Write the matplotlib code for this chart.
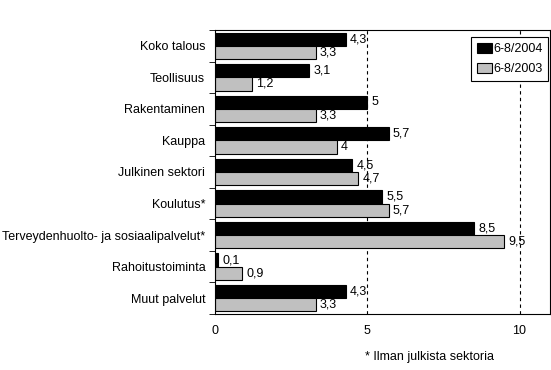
import numpy as np
import matplotlib.pyplot as plt

categories = ['Koko talous', 'Teollisuus', 'Rakentaminen', 'Kauppa', 'Julkinen sektori',
              'Koulutus*', 'Terveydenhuolto- ja sosiaalipalvelut*', 'Rahoitustoiminta',
              'Muut palvelut']
v2004 = [4.3, 3.1, 5.0, 5.7, 4.5, 5.5, 8.5, 0.1, 4.3]
v2003 = [3.3, 1.2, 3.3, 4.0, 4.7, 5.7, 9.5, 0.9, 3.3]
lbl2004 = ['4,3', '3,1', '5', '5,7', '4,5', '5,5', '8,5', '0,1', '4,3']
lbl2003 = ['3,3', '1,2', '3,3', '4', '4,7', '5,7', '9,5', '0,9', '3,3']

plt.rcParams['font.family'] = ['Liberation Sans', 'DejaVu Sans']
plt.rcParams['font.size'] = 9

fig = plt.figure(figsize=(5.51, 3.70), dpi=100)
ax = fig.add_axes([215 / 551, 1 - 314 / 370, 335 / 551, 284 / 370])

y = np.arange(len(categories))
h = 0.42
b1 = ax.barh(y - h / 2, v2004, height=h, color='black', edgecolor='black', linewidth=0.8, label='6-8/2004')
b2 = ax.barh(y + h / 2, v2003, height=h, color='#c0c0c0', edgecolor='black', linewidth=0.8, label='6-8/2003')

ax.bar_label(b1, labels=lbl2004, padding=3, fontsize=9)
ax.bar_label(b2, labels=lbl2003, padding=3, fontsize=9)

for xv in [5, 10]:
    ax.axvline(xv, color='black', linestyle=(0, (3, 3)), linewidth=0.8, zorder=0)

ax.set_xlim(0, 11)
ax.set_ylim(len(categories) - 0.5, -0.5)
ax.set_xticks([0, 5, 10])
ax.set_yticks(y)
ax.set_yticklabels(categories)
ax.tick_params(axis='y', length=0, pad=7)
ax.set_yticks(np.arange(len(categories) + 1) - 0.5, minor=True)
ax.tick_params(axis='y', which='minor', length=4, direction='out')
ax.tick_params(axis='x', length=0, pad=8)
for s in ax.spines.values():
    s.set_linewidth(0.8)

leg = ax.legend(loc='upper right', bbox_to_anchor=(0.994, 0.975), fancybox=False, edgecolor='black',
                framealpha=1, handlelength=1.2, handleheight=0.9, handletextpad=0.1,
                borderpad=0.45, labelspacing=0.6, borderaxespad=0)
leg.get_frame().set_linewidth(0.8)

fig.text(365 / 551, 1 - 357 / 370, '* Ilman julkista sektoria', fontsize=9, va='center')

fig.savefig('out.png', dpi=100)
